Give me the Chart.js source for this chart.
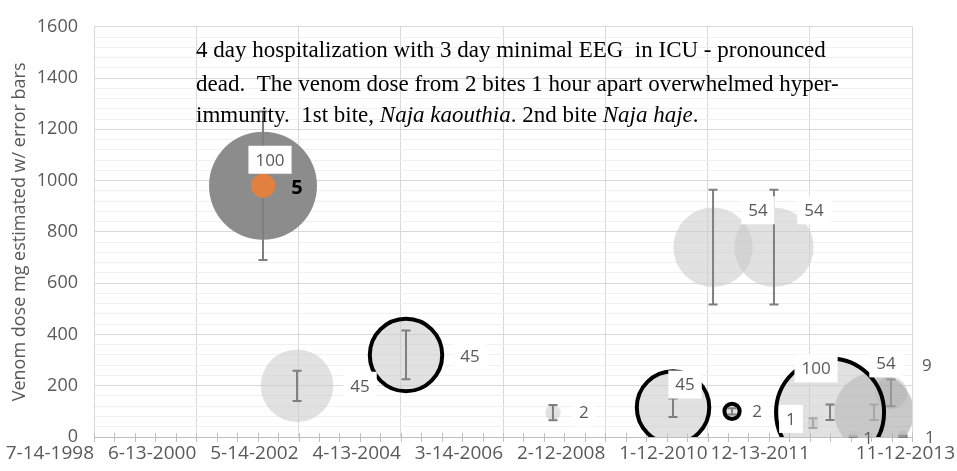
<!DOCTYPE html>
<html>
<head>
<meta charset="utf-8">
<script src="https://cdn.jsdelivr.net/npm/chart.js@4.4.0/dist/chart.umd.min.js"></script>
<style>
    html, body { margin: 0; padding: 0; background: #fff; }
    #wrap { width: 957px; height: 471px; }
</style>
</head>
<body>
<div id="wrap"><canvas id="venomChart" width="957" height="471"></canvas></div>
<script>
// axis ticks
var xTickLabels = ['7-14-1998', '6-13-2000', '5-14-2002', '4-13-2004', '3-14-2006', '2-12-2008', '1-12-2010', '12-13-2011', '11-12-2013'];
var yMax = 1600;

// one entry per bite / bubble
var pointDates  = ['9-13-2001', '9-13-2001', '5-4-2002', '5-19-2004', '2-19-2007', '5-21-2009', '6-29-2010', '2-19-2010', '4-12-2011', '1-4-2012', '4-30-2012', '2-25-2013', '6-21-2013', '10-4-2012', '9-11-2013'];
var pointDoses  = [980, 980, 200, 320, 95, 115, 100, 740, 740, 55, 96, 96, 172, 3, 3];
var pointSizes  = [100, 5, 45, 45, 2, 45, 2, 54, 54, 1, 100, 54, 9, 1, 1];
var errLow      = [690, null, 140, 225, 65, 78, 88, 517, 517, 35, 66, 66, 120, 0, 0];
var errHigh     = [1270, null, 258, 415, 125, 150, 112, 964, 964, 73, 127, 127, 224, 5, 5];
var pointSeries = ['dark', 'orange', 'light', 'ring', 'light', 'ring', 'ring', 'light', 'light', 'light', 'ring', 'mid', 'light', 'light', 'light'];

// label placement (pixels from bubble centre) - kept apart from the data
var labelDx  = [7, 34, 63, 64, 31, 12, 25, 45, 40, -22, -14, 12, 36, 15, 27];
var labelDy  = [-26, 2, 0, 1, 0, -23, 0, -37, -37, -4, -44, -49, -28, 2, 1];
var labelBox = [true, false, true, true, true, true, true, true, true, true, true, true, true, false, true];

var noteLines = [
    [['4 day hospitalization with 3 day minimal EEG  in ICU - pronounced', false]],
    [['dead.  The venom dose from 2 bites 1 hour apart overwhelmed hyper-', false]],
    [['immunity.  1st bite, ', false], ['Naja kaouthia', true], ['. 2nd bite ', false], ['Naja haje', true], ['.', false]]
];

var seriesStyle = {
    light:  { bg: 'rgba(200,200,200,0.55)', border: 'rgba(0,0,0,0)', bw: 0, order: 5 },
    mid:    { bg: 'rgba(165,165,165,0.6)', border: 'rgba(0,0,0,0)', bw: 0, order: 4 },
    ring:   { bg: 'rgba(200,200,200,0.55)', border: '#000000', bw: 4, order: 3 },
    dark:   { bg: '#8c8c8c', border: 'rgba(0,0,0,0)', bw: 0, order: 2 },
    orange: { bg: '#e1803f', border: 'rgba(0,0,0,0)', bw: 0, order: 1 }
};
var BIG_RADIUS = 54;   // radius of a size-100 bubble
var GRAY = '#595959';

function dayOf(s) {
    var p = s.split('-');
    var b = xTickLabels[0].split('-');
    return (Date.UTC(+p[2], +p[0] - 1, +p[1]) - Date.UTC(+b[2], +b[0] - 1, +b[1])) / 86400000;
}
var xMax = dayOf(xTickLabels[xTickLabels.length - 1]);
var xMajor = dayOf(xTickLabels[1]);
var xMinor = xMajor / 5;

var datasets = [];
['light', 'mid', 'ring', 'dark', 'orange'].forEach(function (name) {
    var st = seriesStyle[name];
    var pts = [];
    for (var i = 0; i < pointDates.length; i++) {
        if (pointSeries[i] !== name) continue;
        pts.push({ x: dayOf(pointDates[i]), y: pointDoses[i], r: BIG_RADIUS * Math.sqrt(pointSizes[i] / 100), idx: i });
    }
    datasets.push({
        label: name,
        data: pts,
        backgroundColor: st.bg,
        borderColor: st.border,
        borderWidth: st.bw,
        hoverBorderWidth: st.bw,
        order: st.order,
        clip: { left: false, top: false, right: 0, bottom: 0 }
    });
});

function drawErrorBars(chart, meta) {
    var ctx = chart.ctx, ys = chart.scales.y, xs = chart.scales.x;
    ctx.save();
    ctx.strokeStyle = '#7f7f7f';
    ctx.lineWidth = 2;
    meta._dataset.data.forEach(function (p) {
        var i = p.idx;
        if (errLow[i] == null) return;
        var x = xs.getPixelForValue(p.x);
        var y1 = ys.getPixelForValue(errLow[i]);
        var y2 = ys.getPixelForValue(errHigh[i]);
        ctx.beginPath();
        ctx.moveTo(x, y1); ctx.lineTo(x, y2);
        ctx.moveTo(x - 4.5, y1); ctx.lineTo(x + 4.5, y1);
        ctx.moveTo(x - 4.5, y2); ctx.lineTo(x + 4.5, y2);
        ctx.stroke();
    });
    ctx.restore();
}

var overlayPlugin = {
    id: 'overlay',
    beforeDatasetsDraw: function (chart) {
        // minor ticks crossing the x axis
        var ctx = chart.ctx, xs = chart.scales.x, y0 = chart.chartArea.bottom;
        ctx.save();
        ctx.strokeStyle = '#bfbfbf';
        ctx.lineWidth = 1;
        for (var d = 0; d <= xMax + 0.5; d += xMinor) {
            var x = Math.round(xs.getPixelForValue(d)) + 0.5;
            ctx.beginPath();
            ctx.moveTo(x, y0 - 4); ctx.lineTo(x, y0 + 5);
            ctx.stroke();
        }
        ctx.restore();
    },
    afterDatasetDraw: function (chart, args) {
        drawErrorBars(chart, args.meta);
    },
    afterDatasetsDraw: function (chart) {
        var ctx = chart.ctx, xs = chart.scales.x, ys = chart.scales.y;
        ctx.save();
        ctx.textAlign = 'center';
        ctx.textBaseline = 'middle';
        for (var i = 0; i < pointDates.length; i++) {
            var cx = xs.getPixelForValue(dayOf(pointDates[i])) + labelDx[i];
            var cy = ys.getPixelForValue(pointDoses[i]) + labelDy[i];
            var bold = pointSeries[i] === 'orange';
            ctx.font = bold ? 'bold 20px "Open Sans"' : '17px "Open Sans"';
            var txt = String(pointSizes[i]);
            var w = ctx.measureText(txt).width;
            if (labelBox[i]) {
                ctx.fillStyle = '#ffffff';
                ctx.fillRect(cx - w / 2 - 7, cy - 14, w + 14, 28);
            }
            ctx.fillStyle = bold ? '#000000' : GRAY;
            ctx.fillText(txt, cx, cy + 1);
        }
        ctx.restore();
    },
    afterDraw: function (chart) {
        var ctx = chart.ctx, xs = chart.scales.x;
        ctx.save();
        // x tick labels, right aligned on their tick
        ctx.font = '19px "Open Sans"';
        ctx.fillStyle = GRAY;
        ctx.textAlign = 'right';
        ctx.textBaseline = 'middle';
        for (var i = 0; i < xTickLabels.length; i++) {
            var x = xs.getPixelForValue(dayOf(xTickLabels[i]));
            if (i === xTickLabels.length - 1) x = chart.width - 2;
            ctx.fillText(xTickLabels[i], x, 454);
        }
        // note text
        ctx.fillStyle = '#000000';
        ctx.textAlign = 'left';
        ctx.textBaseline = 'alphabetic';
        var baseY = [57, 91, 122];
        noteLines.forEach(function (line, li) {
            var x = 196;
            line.forEach(function (run) {
                ctx.font = (run[1] ? 'italic ' : '') + '23px "Liberation Serif"';
                ctx.fillText(run[0], x, baseY[li]);
                x += ctx.measureText(run[0]).width;
            });
        });
        ctx.restore();
    }
};

var ctx = document.getElementById('venomChart').getContext('2d');
var venomChart = new Chart(ctx, {
    type: 'bubble',
    data: { datasets: datasets },
    plugins: [overlayPlugin],
    options: {
        responsive: false,
        animation: false,
        layout: { autoPadding: false, padding: { left: 0, right: 45, top: 22, bottom: 0 } },
        plugins: { legend: { display: false }, tooltip: { enabled: false } },
        scales: {
            x: {
                type: 'linear',
                min: 0,
                max: xMax,
                ticks: { display: false, stepSize: xMinor, autoSkip: false, maxRotation: 0 },
                grid: {
                    drawTicks: false,
                    color: function (c) {
                        return c.tick && Math.abs(c.tick.value % xMajor) < 0.5 ? '#d9d9d9' : 'rgba(0,0,0,0)';
                    }
                },
                border: { color: '#bfbfbf', width: 1 },
                afterFit: function (s) { s.height = 34; }
            },
            y: {
                min: 0,
                max: yMax,
                ticks: {
                    stepSize: 40,
                    autoSkip: false,
                    padding: 16,
                    color: GRAY,
                    font: { family: 'Open Sans', size: 18 },
                    callback: function (v) { return v % 200 === 0 ? v : ''; }
                },
                grid: {
                    drawTicks: false,
                    color: function (c) {
                        if (!c.tick) return '#d9d9d9';
                        return c.tick.value % 200 === 0 ? '#d9d9d9' : '#f0f0f0';
                    }
                },
                border: { color: '#d9d9d9', width: 1 },
                title: {
                    display: true,
                    text: 'Venom dose mg estimated w/ error bars',
                    color: GRAY,
                    font: { family: 'Open Sans', size: 18 },
                    padding: { top: 9, bottom: 4 }
                },
                afterFit: function (s) { s.width = 94; }
            }
        }
    }
});
</script>
</body>
</html>
